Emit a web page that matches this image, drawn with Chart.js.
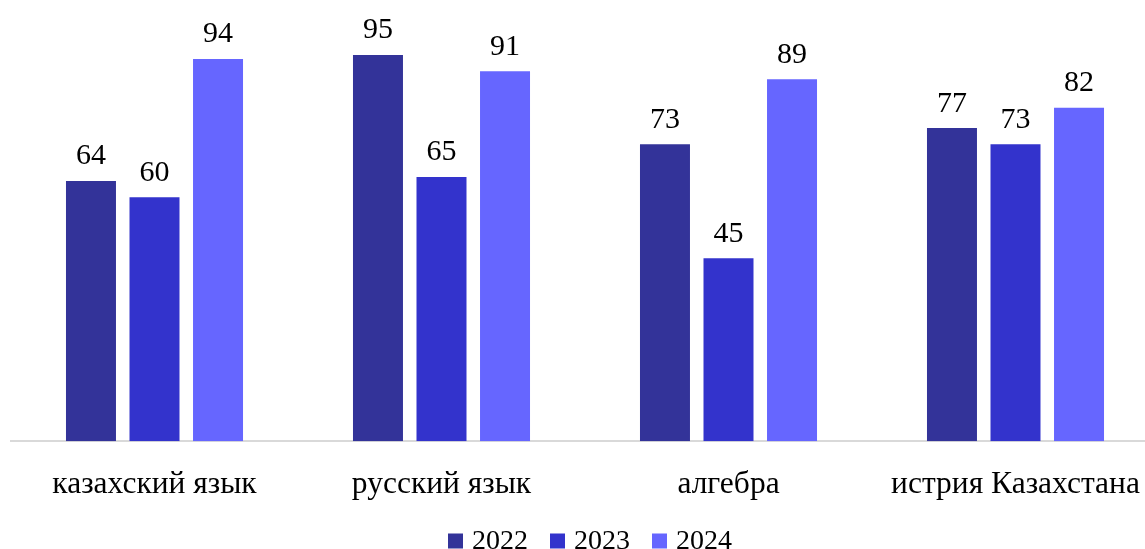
<!DOCTYPE html>
<html>
<head>
<meta charset="utf-8">
<script src="https://cdn.jsdelivr.net/npm/chart.js@4"></script>
<style>
  html, body { margin: 0; padding: 0; background: #ffffff; overflow: hidden; }
  #wrap { width: 1160px; height: 549px; }
</style>
</head>
<body>
<div id="wrap"><canvas id="chart"></canvas></div>
<script>
const categories = ['казахский язык', 'русский язык', 'алгебра', 'истрия Казахстана'];
const years = ['2022', '2023', '2024'];
const values2022 = [64, 95, 73, 77];
const values2023 = [60, 65, 45, 73];
const values2024 = [94, 91, 89, 82];
const colors = ['#333399', '#3333CC', '#6666FF'];

const FONT = '"Liberation Serif", "Times New Roman", serif';

// value labels above every bar
const valueLabels = {
    id: 'valueLabels',
    afterDatasetsDraw(chart) {
        const ctx = chart.ctx;
        ctx.save();
        ctx.font = '30px ' + FONT;
        ctx.fillStyle = '#000000';
        ctx.textAlign = 'center';
        ctx.textBaseline = 'alphabetic';
        chart.data.datasets.forEach((ds, i) => {
            chart.getDatasetMeta(i).data.forEach((bar, j) => {
                ctx.fillText(ds.data[j], bar.x, bar.y - 16.5);
            });
        });
        ctx.restore();
    }
};

// legend drawn in the reserved bottom strip
const bottomLegend = {
    id: 'bottomLegend',
    afterDraw(chart) {
        const ctx = chart.ctx;
        const box = 15, gapText = 9, gapItem = 22;
        ctx.save();
        ctx.font = '28px ' + FONT;
        ctx.textBaseline = 'middle';
        ctx.textAlign = 'left';
        const items = chart.data.datasets.map(ds => ({
            text: ds.label, color: ds.backgroundColor,
            w: box + gapText + ctx.measureText(ds.label).width
        }));
        const total = items.reduce((s, it) => s + it.w, 0) + gapItem * (items.length - 1);
        let x = chart.width / 2 + 10 - total / 2;
        const y = chart.height - 8;
        items.forEach(it => {
            ctx.fillStyle = it.color;
            ctx.fillRect(x, y - box / 2, box, box);
            ctx.fillStyle = '#000000';
            ctx.fillText(it.text, x + box + gapText, y + 1);
            x += it.w + gapItem;
        });
        ctx.restore();
    }
};

const chart = document.getElementById('chart').getContext('2d');
new Chart(chart, {
    type: 'bar',
    data: {
        labels: categories,
        datasets: [
            { label: years[0], data: values2022, backgroundColor: colors[0] },
            { label: years[1], data: values2023, backgroundColor: colors[1] },
            { label: years[2], data: values2024, backgroundColor: colors[2] }
        ]
    },
    options: {
        responsive: true,
        maintainAspectRatio: false,
        animation: false,
        categoryPercentage: 0.664,
        barPercentage: 0.787,
        layout: {
            padding: { left: 11, right: 1, top: 0, bottom: 28 }
        },
        scales: {
            y: {
                display: false,
                min: 0,
                max: 108.5
            },
            x: {
                grid: { display: false },
                border: { display: true, color: '#d9d9d9', width: 2 },
                ticks: {
                    color: '#000000',
                    padding: 17,
                    font: { family: FONT, size: 31.5 }
                }
            }
        },
        plugins: {
            legend: { display: false },
            tooltip: { enabled: false }
        }
    },
    plugins: [valueLabels, bottomLegend]
});
</script>
</body>
</html>
